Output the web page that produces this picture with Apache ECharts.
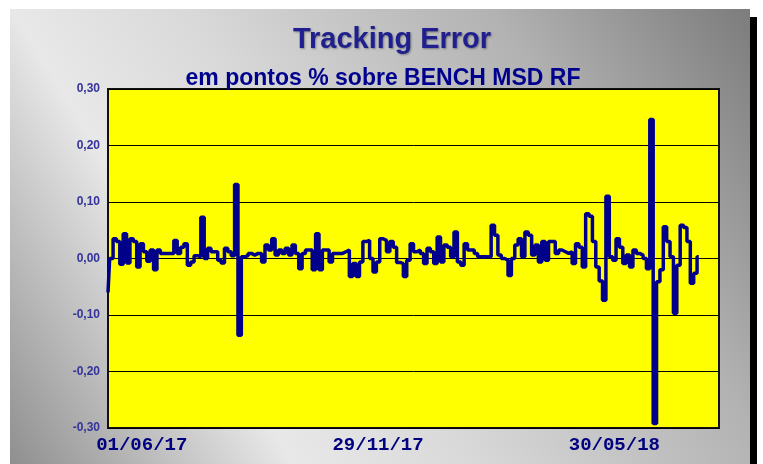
<!DOCTYPE html>
<html>
<head>
<meta charset="utf-8">
<title>Tracking Error</title>
<script src="https://cdn.jsdelivr.net/npm/echarts@6/dist/echarts.min.js"></script>
<style>
  html, body { margin: 0; padding: 0; background: #fff; }
  #chart { width: 763px; height: 464px; }
</style>
</head>
<body>
<div id="chart"></div>
<script>
// tracking error, one value every ~2.5 days
var trackingError = [
  -0.060, 0.000, 0.035, 0.030, -0.010, 0.044, -0.008, 0.035, 0.030, -0.015,
  0.026, 0.012, -0.005, 0.015, -0.020, 0.015, 0.009, 0.009, 0.009, 0.009,
  0.032, 0.009, 0.020, 0.026, -0.012, -0.006, 0.005, 0.003, 0.073, 0.000,
  0.018, 0.012, 0.012, -0.003, -0.008, 0.018, 0.012, 0.005, 0.131, -0.136,
  0.003, 0.005, 0.009, 0.006, 0.009, 0.009, -0.006, 0.024, 0.015, 0.035,
  0.006, 0.015, 0.009, 0.018, 0.006, 0.024, 0.009, -0.018, 0.009, 0.015,
  0.015, -0.020, 0.044, -0.020, 0.015, 0.015, -0.006, 0.009, 0.009, 0.009,
  0.012, 0.015, -0.032, -0.009, -0.032, -0.006, 0.030, 0.032, 0.000, -0.024,
  -0.006, 0.035, 0.032, 0.012, 0.030, 0.020, -0.007, -0.009, -0.032, -0.003,
  0.026, 0.012, 0.015, 0.009, -0.009, 0.018, 0.012, -0.009, 0.038, -0.006,
  0.024, 0.020, 0.003, 0.047, -0.006, -0.012, 0.026, 0.015, 0.015, 0.009,
  0.003, 0.003, 0.003, 0.003, 0.059, 0.041, 0.006, 0.000, -0.003, -0.030,
  0.000, 0.024, 0.035, 0.003, 0.047, 0.041, 0.006, 0.024, -0.006, 0.030,
  -0.003, 0.030, 0.030, 0.009, 0.015, 0.012, 0.009, 0.012, -0.009, 0.026,
  0.020, -0.015, 0.079, 0.075, 0.030, -0.015, -0.040, -0.074, 0.110, 0.003,
  -0.003, 0.035, 0.020, -0.009, 0.006, -0.015, 0.015, 0.009, 0.006, 0.000,
  -0.018, 0.246, -0.292, -0.041, -0.020, 0.056, 0.030, 0.003, -0.097, -0.012,
  0.059, 0.055, 0.030, -0.044, -0.026, 0.003
];

// x axis slots (the axis runs a bit past the last value)
var slotCount = 182;
var xTickLabels = ['01/06/17', '29/11/17', '30/05/18'];
var xTickSlots = [10, 80, 150];

var slots = [];
for (var i = 0; i < slotCount; i++) slots.push(i);

var chart = echarts.init(document.getElementById('chart'));

var option = {
  backgroundColor: '#fff',
  animation: false,
  graphic: [
    { type: 'rect', z: -20, shape: { x: 750, y: 17, width: 7, height: 460 }, style: { fill: '#000' } },
    {
      type: 'rect', z: -19,
      shape: { x: 10, y: 9, width: 740, height: 460 },
      style: {
        fill: new echarts.graphic.LinearGradient(0, 1, 1, 0, [
          { offset: 0, color: '#8e8e8e' },
          { offset: 0.28, color: '#e8e8e8' },
          { offset: 0.45, color: '#d9d9d9' },
          { offset: 0.75, color: '#b2b2b2' },
          { offset: 1, color: '#7c7c7c' }
        ])
      }
    }
  ],
  title: [
    {
      text: 'Tracking Error',
      left: 387, top: 20, textAlign: 'center',
      textStyle: {
        fontFamily: 'Liberation Sans, Arial', fontWeight: 'bold', fontSize: 29,
        color: '#1f1f8f',
        textShadowColor: 'rgba(0,0,0,0.35)', textShadowBlur: 2,
        textShadowOffsetX: 1, textShadowOffsetY: 1
      }
    },
    {
      text: 'em pontos % sobre BENCH MSD RF',
      left: 378, top: 62, textAlign: 'center',
      textStyle: {
        fontFamily: 'Liberation Sans, Arial', fontWeight: 'bold', fontSize: 23,
        color: '#00008f'
      }
    }
  ],
  grid: {
    left: 108, top: 89, right: 44, bottom: 36,
    show: true, backgroundColor: '#ffff00',
    borderColor: '#111', borderWidth: 2
  },
  xAxis: {
    type: 'category',
    data: slots,
    boundaryGap: false,
    axisLine: { show: false },
    axisTick: { show: false },
    splitLine: { show: false },
    axisLabel: {
      interval: function (idx) { return xTickSlots.indexOf(idx) >= 0; },
      formatter: function (v, idx) {
        var k = xTickSlots.indexOf(idx);
        return k >= 0 ? xTickLabels[k] : '';
      },
      margin: 8,
      fontFamily: 'Liberation Mono, monospace', fontWeight: 'bold', fontSize: 19,
      color: '#000080'
    }
  },
  yAxis: {
    type: 'value',
    min: -0.3, max: 0.3, interval: 0.1,
    axisLine: { show: false },
    axisTick: { show: false },
    splitLine: { lineStyle: { color: '#000', width: 1 } },
    axisLabel: {
      margin: 8,
      fontFamily: 'Liberation Sans, Arial', fontWeight: 'bold', fontSize: 12,
      color: '#33339a',
      formatter: function (v) {
        var s = Math.abs(v) < 1e-9 ? '0.00' : v.toFixed(2);
        return s.replace('.', ',');
      }
    }
  },
  series: [{
    type: 'line',
    data: trackingError,
    step: 'middle',
    showSymbol: false,
    lineStyle: { color: '#00008b', width: 3.5 }
  }]
};

chart.setOption(option);
window.addEventListener('resize', function () { chart.resize(); });
</script>
</body>
</html>
